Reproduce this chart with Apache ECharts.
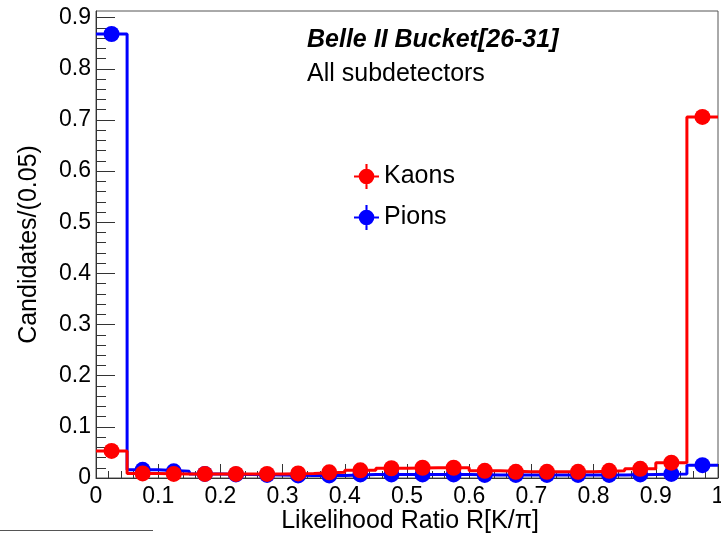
<!DOCTYPE html>
<html>
<head>
<meta charset="utf-8">
<script src="https://cdn.jsdelivr.net/npm/echarts@6/dist/echarts.min.js"></script>
<style>html,body{margin:0;padding:0;background:#fff;}#c{width:721px;height:535px;}</style>
</head>
<body>
<div id="c"></div>
<script>
// Bin layout: 20 bins of width 0.05 on [0, 1]
var binEdges = [0,0.05,0.1,0.15,0.2,0.25,0.3,0.35,0.4,0.45,0.5,0.55,0.6,0.65,0.7,0.75,0.8,0.85,0.9,0.95,1.0];
var kaons = [0.053,0.009,0.008,0.008,0.008,0.008,0.009,0.011,0.015,0.019,0.020,0.020,0.014,0.012,0.012,0.012,0.014,0.018,0.030,0.706];
var pions = [0.868,0.016,0.013,0.008,0.007,0.006,0.005,0.005,0.007,0.007,0.007,0.007,0.006,0.006,0.006,0.006,0.006,0.007,0.008,0.025];
var yTickLabels = [0,0.1,0.2,0.3,0.4,0.5,0.6,0.7,0.8,0.9];
var xTickLabels = [0,0.1,0.2,0.3,0.4,0.5,0.6,0.7,0.8,0.9,1];
var yMax = 0.913;

function stepData(vals){
  var d = [];
  for (var i = 0; i < vals.length; i++) d.push([binEdges[i], vals[i]]);
  d.push([binEdges[vals.length], vals[vals.length-1]]);
  return d;
}
function pointData(vals){
  var d = [];
  for (var i = 0; i < vals.length; i++) d.push([(binEdges[i]+binEdges[i+1])/2, vals[i]]);
  return d;
}
var yMinor = [];
for (var k = 1; k * 0.02 < yMax; k++) { if (k % 5 !== 0) yMinor.push(+(k*0.02).toFixed(3)); }

var FONT = 'Liberation Sans';
var icon = 'path://M0 11H24V13H0Z M11 0H13V24H11Z M12 4.5A7.5 7.5 0 1 1 12 19.5A7.5 7.5 0 1 1 12 4.5Z';

var chart = echarts.init(document.getElementById('c'), null, {renderer:'canvas'});
chart.setOption({
  animation:false,
  backgroundColor:'#fff',
  textStyle:{fontFamily:FONT},
  grid:{left:96,right:3,top:11,bottom:57,show:true,borderColor:'#555',borderWidth:1,
    containLabel:false,outerBoundsMode:'none'},
  legend:{
    left:349, top:159, orient:'vertical', itemWidth:25, itemHeight:25, itemGap:16,
    data:[{name:'Kaons',icon:icon},{name:'Pions',icon:icon}],
    itemStyle:{opacity:1},
    textStyle:{fontFamily:FONT,fontSize:25,color:'#000'},
    selectedMode:false
  },
  xAxis:{
    type:'value', min:0, max:1, interval:0.1,
    name:'Likelihood Ratio R[K/π]', nameLocation:'middle', nameGap:31, nameMoveOverlap:false,
    nameTextStyle:{fontFamily:FONT,fontSize:25,color:'#000',padding:[0,0,0,6]},
    axisLine:{show:true,onZero:false,lineStyle:{color:'#333',width:1}},
    axisTick:{show:true,inside:true,length:14,lineStyle:{color:'#333'}},
    minorTick:{show:true,splitNumber:5,length:7,lineStyle:{color:'#333'}},
    axisLabel:{fontFamily:FONT,fontSize:23,color:'#000',margin:7,
      customValues:xTickLabels,formatter:function(v){return String(+v.toFixed(2));}},
    splitLine:{show:false}
  },
  yAxis:[{
    type:'value', min:0, max:yMax,
    name:'Candidates/(0.05)', nameLocation:'middle', nameGap:54,
    nameTextStyle:{fontFamily:FONT,fontSize:25,color:'#000'},
    axisLine:{show:true,onZero:false,lineStyle:{color:'#333',width:1}},
    axisTick:{show:true,inside:true,length:19,customValues:yTickLabels,lineStyle:{color:'#333'}},
    axisLabel:{fontFamily:FONT,fontSize:23,color:'#000',margin:5,customValues:yTickLabels,
      formatter:function(v){return String(+v.toFixed(2));}},
    splitLine:{show:false}
  },{
    type:'value', min:0, max:yMax, position:'left',
    axisLine:{show:false},
    axisTick:{show:true,inside:true,length:10,customValues:yMinor,lineStyle:{color:'#333'}},
    axisLabel:{show:false}, splitLine:{show:false}
  }],
  graphic:[
    {type:'text',left:307,top:28,z:10,style:{text:'Belle II Bucket[26-31]',font:'italic bold 25px "Liberation Sans"',fill:'#000'}},
    {type:'text',left:307,top:62,z:10,style:{text:'All subdetectors',font:'25px "Liberation Sans"',fill:'#000'}},
    {type:'line',z:10,shape:{x1:0,y1:530.5,x2:153,y2:530.5},style:{stroke:'#555',lineWidth:1}}
  ],
  series:[
    {name:'Pions hist',type:'line',step:'end',data:stepData(pions),showSymbol:false,symbol:'none',
      lineStyle:{color:'#0000ff',width:3},z:1,silent:true},
    {name:'Pions',type:'scatter',data:pointData(pions),symbol:'circle',symbolSize:16,
      itemStyle:{color:'#0000ff',opacity:1},z:2,silent:true},
    {name:'Kaons hist',type:'line',step:'end',data:stepData(kaons),showSymbol:false,symbol:'none',
      lineStyle:{color:'#ff0000',width:3},z:3,silent:true},
    {name:'Kaons',type:'scatter',data:pointData(kaons),symbol:'circle',symbolSize:16,
      itemStyle:{color:'#ff0000',opacity:1},z:4,silent:true}
  ]
});
</script>
</body>
</html>
